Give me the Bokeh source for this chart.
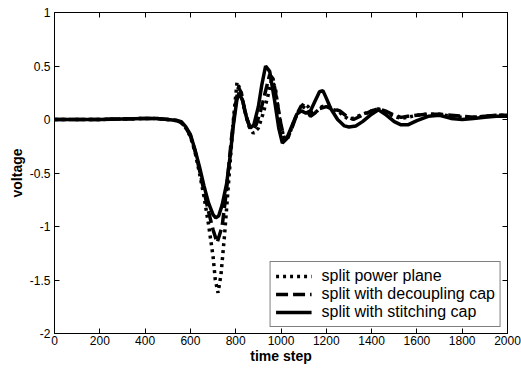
from bokeh.plotting import figure
from bokeh.models import Range1d, LinearAxis, Legend, LegendItem, FixedTicker
from bokeh.embed import file_html
from bokeh.resources import INLINE

# split power plane (dotted)
t_plane = [0, 100, 200, 300, 400, 450, 500, 540, 560, 580, 600, 620, 640, 660, 680, 700, 710, 722, 735, 750, 770, 790, 806, 820, 840, 860, 878, 900, 920, 940, 958, 975, 990, 1010, 1025, 1040, 1060, 1080, 1100, 1120, 1140, 1160, 1180, 1200, 1220, 1250, 1280, 1300, 1330, 1360, 1400, 1430, 1460, 1500, 1530, 1560, 1600, 1650, 1700, 1750, 1800, 1850, 1900, 1950, 2000]
v_plane = [0, 0, 0, 0.005, 0.01, 0.01, 0.0, -0.01, -0.03, -0.08, -0.16, -0.3, -0.5, -0.72, -0.98, -1.28, -1.5, -1.62, -1.45, -1.1, -0.55, 0.0, 0.35, 0.28, 0.08, -0.07, -0.13, -0.08, 0.05, 0.2, 0.37, 0.3, 0.05, -0.15, -0.2, -0.12, 0.0, 0.08, 0.15, 0.12, 0.05, 0.08, 0.12, 0.13, 0.1, 0.08, 0.03, 0.0, 0.02, 0.05, 0.08, 0.1, 0.07, 0.03, 0.01, 0.02, 0.04, 0.05, 0.05, 0.03, 0.02, 0.02, 0.03, 0.04, 0.04]

# split with decoupling cap (dashed)
t_decap = [0, 100, 200, 300, 400, 450, 500, 540, 560, 580, 600, 620, 640, 660, 680, 700, 718, 740, 760, 780, 800, 812, 825, 840, 860, 875, 890, 910, 930, 950, 965, 980, 1000, 1015, 1030, 1050, 1070, 1090, 1110, 1130, 1150, 1170, 1200, 1230, 1260, 1290, 1320, 1350, 1400, 1430, 1460, 1500, 1530, 1560, 1600, 1650, 1700, 1750, 1800, 1850, 1900, 1950, 2000]
v_decap = [0, 0, 0, 0.005, 0.01, 0.01, 0.0, -0.01, -0.03, -0.08, -0.15, -0.29, -0.47, -0.67, -0.86, -1.03, -1.15, -1.0, -0.65, -0.2, 0.15, 0.3, 0.25, 0.08, -0.06, -0.1, -0.05, 0.08, 0.25, 0.42, 0.38, 0.2, -0.05, -0.18, -0.17, -0.07, 0.05, 0.13, 0.1, 0.03, 0.06, 0.1, 0.12, 0.1, 0.08, 0.03, 0.0, 0.03, 0.08, 0.1, 0.08, 0.04, 0.02, 0.03, 0.04, 0.05, 0.05, 0.04, 0.03, 0.02, 0.03, 0.04, 0.04]

# split with stitching cap (solid)
t_stitch = [0, 100, 200, 300, 400, 450, 500, 540, 560, 580, 600, 620, 640, 660, 680, 700, 712, 725, 740, 760, 775, 790, 805, 815, 830, 850, 865, 880, 900, 915, 932, 950, 970, 990, 1006, 1025, 1050, 1070, 1090, 1110, 1130, 1150, 1170, 1185, 1200, 1220, 1250, 1280, 1300, 1330, 1360, 1400, 1430, 1460, 1500, 1530, 1560, 1600, 1650, 1700, 1750, 1800, 1850, 1900, 1950, 2000]
v_stitch = [0, 0, 0, 0.005, 0.01, 0.01, 0.0, -0.01, -0.02, -0.07, -0.14, -0.28, -0.44, -0.62, -0.78, -0.89, -0.92, -0.9, -0.8, -0.6, -0.35, -0.05, 0.18, 0.25, 0.18, 0.0, -0.08, -0.05, 0.12, 0.32, 0.5, 0.45, 0.2, -0.08, -0.22, -0.18, -0.05, 0.05, 0.08, 0.06, 0.08, 0.17, 0.26, 0.27, 0.2, 0.1, 0.0, -0.06, -0.07, -0.06, -0.02, 0.05, 0.09, 0.05, -0.02, -0.05, -0.05, -0.01, 0.03, 0.04, 0.01, 0.0, 0.01, 0.02, 0.03, 0.03]

labels = ["split power plane", "split with decoupling cap", "split with stitching cap"]
x_ticks = [0, 200, 400, 600, 800, 1000, 1200, 1400, 1600, 1800, 2000]
y_ticks = [-2, -1.5, -1, -0.5, 0, 0.5, 1]
y_tick_labels = ["-2", "-1.5", "-1", "-0.5", "0", "0.5", "1"]

FONT = "Liberation Sans"

p = figure(width=521, height=370, output_backend="svg", toolbar_location=None,
           x_range=Range1d(0, 2000), y_range=Range1d(-2, 1),
           min_border_left=54, min_border_right=14, min_border_top=12, min_border_bottom=37)
p.background_fill_color = "white"
p.border_fill_color = "white"
p.outline_line_color = "black"
p.outline_line_width = 1
p.xgrid.visible = False
p.ygrid.visible = False

r1 = p.line(t_plane, v_plane, line_color="black", line_width=3.5, line_dash="3 4")
r2 = p.line(t_decap, v_decap, line_color="black", line_width=3.5, line_dash="12 5")
r3 = p.line(t_stitch, v_stitch, line_color="black", line_width=3.5)

for ax in [p.xaxis[0], p.yaxis[0]]:
    ax.major_tick_in = 5
    ax.major_tick_out = 0
    ax.minor_tick_line_color = None
    ax.axis_line_color = "black"
    ax.major_label_text_font = FONT
    ax.major_label_text_font_size = "12px"
    ax.major_label_text_color = "black"
    ax.axis_label_text_font = FONT
    ax.axis_label_text_font_size = "14px"
    ax.axis_label_text_font_style = "bold"
    ax.axis_label_text_color = "black"

p.xaxis[0].ticker = FixedTicker(ticks=x_ticks)
p.yaxis[0].ticker = FixedTicker(ticks=y_ticks)
p.yaxis[0].major_label_overrides = {t: s for t, s in zip(y_ticks, y_tick_labels)}
p.xaxis[0].axis_label = "time step"
p.yaxis[0].axis_label = "voltage"
p.xaxis[0].axis_label_standoff = 0
p.yaxis[0].axis_label_standoff = 2
p.xaxis[0].major_label_standoff = 2
p.yaxis[0].major_label_standoff = 4

top = LinearAxis(ticker=FixedTicker(ticks=x_ticks), major_label_text_font_size="0px",
                 major_tick_in=5, major_tick_out=0, minor_tick_line_color=None)
right = LinearAxis(ticker=FixedTicker(ticks=y_ticks), major_label_text_font_size="0px",
                   major_tick_in=5, major_tick_out=0, minor_tick_line_color=None)
top.major_label_text_color = None
right.major_label_text_color = None
p.add_layout(top, "above")
p.add_layout(right, "right")

legend = Legend(items=[LegendItem(label=labels[0], renderers=[r1]),
                       LegendItem(label=labels[1], renderers=[r2]),
                       LegendItem(label=labels[2], renderers=[r3])],
                location="bottom_right")
legend.label_text_font = FONT
legend.label_text_font_size = "16px"
legend.label_text_line_height = 0.9
legend.label_text_color = "black"
legend.border_line_color = "black"
legend.border_line_width = 1
legend.background_fill_alpha = 1
legend.glyph_width = 36
legend.glyph_height = 12
legend.spacing = 0
legend.padding = 5
legend.margin = 6
legend.label_standoff = 10
legend.label_height = 12
p.add_layout(legend)

open("out.html", "w").write(file_html(p, INLINE))
